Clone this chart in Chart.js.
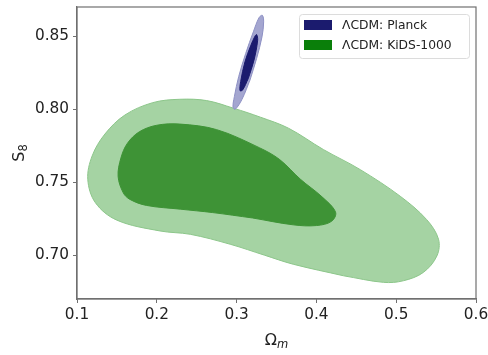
<!DOCTYPE html>
<html>
<head>
<meta charset="utf-8">
<script src="https://cdn.jsdelivr.net/npm/chart.js@4/dist/chart.umd.min.js"></script>
<style>
  html, body { margin: 0; padding: 0; background: #fff; }
  #wrap { width: 488px; height: 355px; }
</style>
</head>
<body>
<div id="wrap"><canvas id="myChart" width="488" height="355"></canvas></div>
<script>
// contour outlines, [Omega_m, S8] pairs traced round each region
var kidsOuterOm = [0.434, 0.371, 0.335, 0.292, 0.242, 0.204, 0.150, 0.123, 0.1135, 0.119, 0.135, 0.160, 0.195, 0.229, 0.2625, 0.296, 0.330, 0.365, 0.409, 0.455, 0.505, 0.538, 0.553, 0.551, 0.534, 0.509, 0.484, 0.434];
var kidsOuterS8 = [0.6859, 0.6938, 0.700, 0.7075, 0.7143, 0.7166, 0.724, 0.736, 0.752, 0.768, 0.783, 0.796, 0.8045, 0.8068, 0.8059, 0.8007, 0.7945, 0.787, 0.7723, 0.7586, 0.7404, 0.7245, 0.711, 0.6995, 0.6882, 0.6825, 0.6814, 0.6859];

var kidsInnerOm = [0.320, 0.270, 0.230, 0.187, 0.1664, 0.158, 0.1515, 0.155, 0.163, 0.178, 0.200, 0.229, 0.275, 0.329, 0.354, 0.380, 0.407, 0.424, 0.419, 0.400, 0.371, 0.320];
var kidsInnerS8 = [0.7255, 0.7292, 0.7315, 0.7341, 0.7382, 0.7427, 0.754, 0.7665, 0.7765, 0.7845, 0.789, 0.7898, 0.786, 0.7735, 0.7655, 0.752, 0.740, 0.7295, 0.7232, 0.7203, 0.7208, 0.7255];

var planckOuterOm = [0.3168, 0.3068, 0.2984, 0.2955, 0.2972, 0.3026, 0.3114, 0.3210, 0.3281, 0.3323, 0.3339, 0.3318, 0.3251, 0.3168];
var planckOuterS8 = [0.8200, 0.8068, 0.8000, 0.8014, 0.8086, 0.8223, 0.8382, 0.8530, 0.8627, 0.8643, 0.8598, 0.8495, 0.8348, 0.8200];

var planckInnerOm = [0.3147, 0.3076, 0.3043, 0.3051, 0.3105, 0.3180, 0.3230, 0.3251, 0.3264, 0.3218, 0.3147];
var planckInnerS8 = [0.8211, 0.8132, 0.8127, 0.8189, 0.8325, 0.8439, 0.8500, 0.8511, 0.8473, 0.8336, 0.8211];

var xTicks = [0.1, 0.2, 0.3, 0.4, 0.5, 0.6];
var yTicks = [0.70, 0.75, 0.80, 0.85];
var legendLabels = ["\u039BCDM: Planck", "\u039BCDM: KiDS-1000"];
var legendColors = ["#1b1b6e", "#0a7f0a"];

function pts(xs, ys) {
  return xs.map(function (x, i) { return { x: x, y: ys[i] }; });
}

// higher order is painted first, so inner contours sit on top
function region(xs, ys, fillColor, edge, order) {
  return {
    data: pts(xs, ys),
    order: order,
    showLine: true,
    fill: 'shape',
    backgroundColor: fillColor,
    borderColor: edge,
    borderWidth: 1,
    pointRadius: 0,
    tension: 0.35
  };
}

var frameColor = '#707070';
var fontName = "'DejaVu Sans', sans-serif";

// legend box, frame and axis titles drawn on top
var extras = {
  id: 'extras',
  afterDraw: function (chart) {
    var ctx = chart.ctx;
    var a = chart.chartArea;
    ctx.save();
    ctx.strokeStyle = frameColor;
    ctx.lineWidth = 1.2;
    ctx.strokeRect(a.left, a.top, a.right - a.left, a.bottom - a.top);

    // legend
    ctx.fillStyle = 'rgba(255,255,255,0.85)';
    ctx.strokeStyle = '#dcdcdc';
    ctx.lineWidth = 1;
    ctx.beginPath();
    ctx.roundRect(299.5, 14.5, 170, 44, 3);
    ctx.fill();
    ctx.stroke();
    ctx.font = '12.3px ' + fontName;
    ctx.textBaseline = 'middle';
    for (var i = 0; i < legendLabels.length; i++) {
      var yy = 20 + i * 20;
      ctx.fillStyle = legendColors[i];
      ctx.fillRect(304, yy, 28, 10);
      ctx.fillStyle = '#222';
      ctx.fillText(legendLabels[i], 342, yy + 5.5);
    }

    // x title: Omega_m
    ctx.fillStyle = '#222';
    ctx.font = '16px ' + fontName;
    ctx.textBaseline = 'alphabetic';
    var cx = (a.left + a.right) / 2;
    var w1 = ctx.measureText('\u03A9').width;
    ctx.font = 'italic 11.5px ' + fontName;
    var w2 = ctx.measureText('m').width;
    var sx = cx - (w1 + w2) / 2;
    ctx.font = '16px ' + fontName;
    ctx.fillText('\u03A9', sx, 345);
    ctx.font = 'italic 11.5px ' + fontName;
    ctx.fillText('m', sx + w1, 348);

    // y title: S_8
    ctx.translate(24, (a.top + a.bottom) / 2);
    ctx.rotate(-Math.PI / 2);
    ctx.font = '16px ' + fontName;
    var s1 = ctx.measureText('S').width;
    ctx.font = '11.5px ' + fontName;
    var s2 = ctx.measureText('8').width;
    var sy = -(s1 + s2) / 2;
    ctx.font = '16px ' + fontName;
    ctx.fillText('S', sy, 0);
    ctx.font = '11.5px ' + fontName;
    ctx.fillText('8', sy + s1, 3);
    ctx.restore();
  }
};

new Chart("myChart", {
  type: "scatter",
  data: {
    datasets: [
      region(kidsOuterOm, kidsOuterS8, '#a5d3a3', '#8cc68a', 4),
      region(kidsInnerOm, kidsInnerS8, '#3e9336', '#3e9336', 3),
      region(planckOuterOm, planckOuterS8, '#a4a6d0', '#8d90c4', 2),
      region(planckInnerOm, planckInnerS8, '#1b1b6e', '#1b1b6e', 1)
    ]
  },
  options: {
    responsive: false,
    animation: false,
    layout: { padding: { top: 7, right: 12, left: 0, bottom: 0 } },
    plugins: {
      legend: { display: false },
      tooltip: { enabled: false }
    },
    scales: {
      x: {
        type: 'linear',
        min: 0.1,
        max: 0.6,
        afterFit: function (s) {
          s.height = 56;
          s.paddingLeft = 0;
          s.paddingRight = 0;
        },
        afterBuildTicks: function (s) { s.ticks = xTicks.map(function (v) { return { value: v }; }); },
        ticks: {
          color: '#222',
          font: { family: fontName, size: 15.3 },
          padding: 3,
          callback: function (v) { return v.toFixed(1); }
        },
        grid: { drawOnChartArea: false, tickLength: 4, color: frameColor },
        border: { color: frameColor, width: 1.2 }
      },
      y: {
        type: 'linear',
        min: 0.67,
        max: 0.87,
        afterFit: function (s) {
          s.width = 77;
          s.paddingTop = 0;
          s.paddingBottom = 0;
        },
        afterBuildTicks: function (s) { s.ticks = yTicks.map(function (v) { return { value: v }; }); },
        ticks: {
          color: '#222',
          font: { family: fontName, size: 15.3 },
          padding: 4,
          callback: function (v) { return v.toFixed(2); }
        },
        grid: { drawOnChartArea: false, tickLength: 4, color: frameColor },
        border: { color: frameColor, width: 1.2 }
      }
    }
  },
  plugins: [extras]
});
</script>
</body>
</html>
